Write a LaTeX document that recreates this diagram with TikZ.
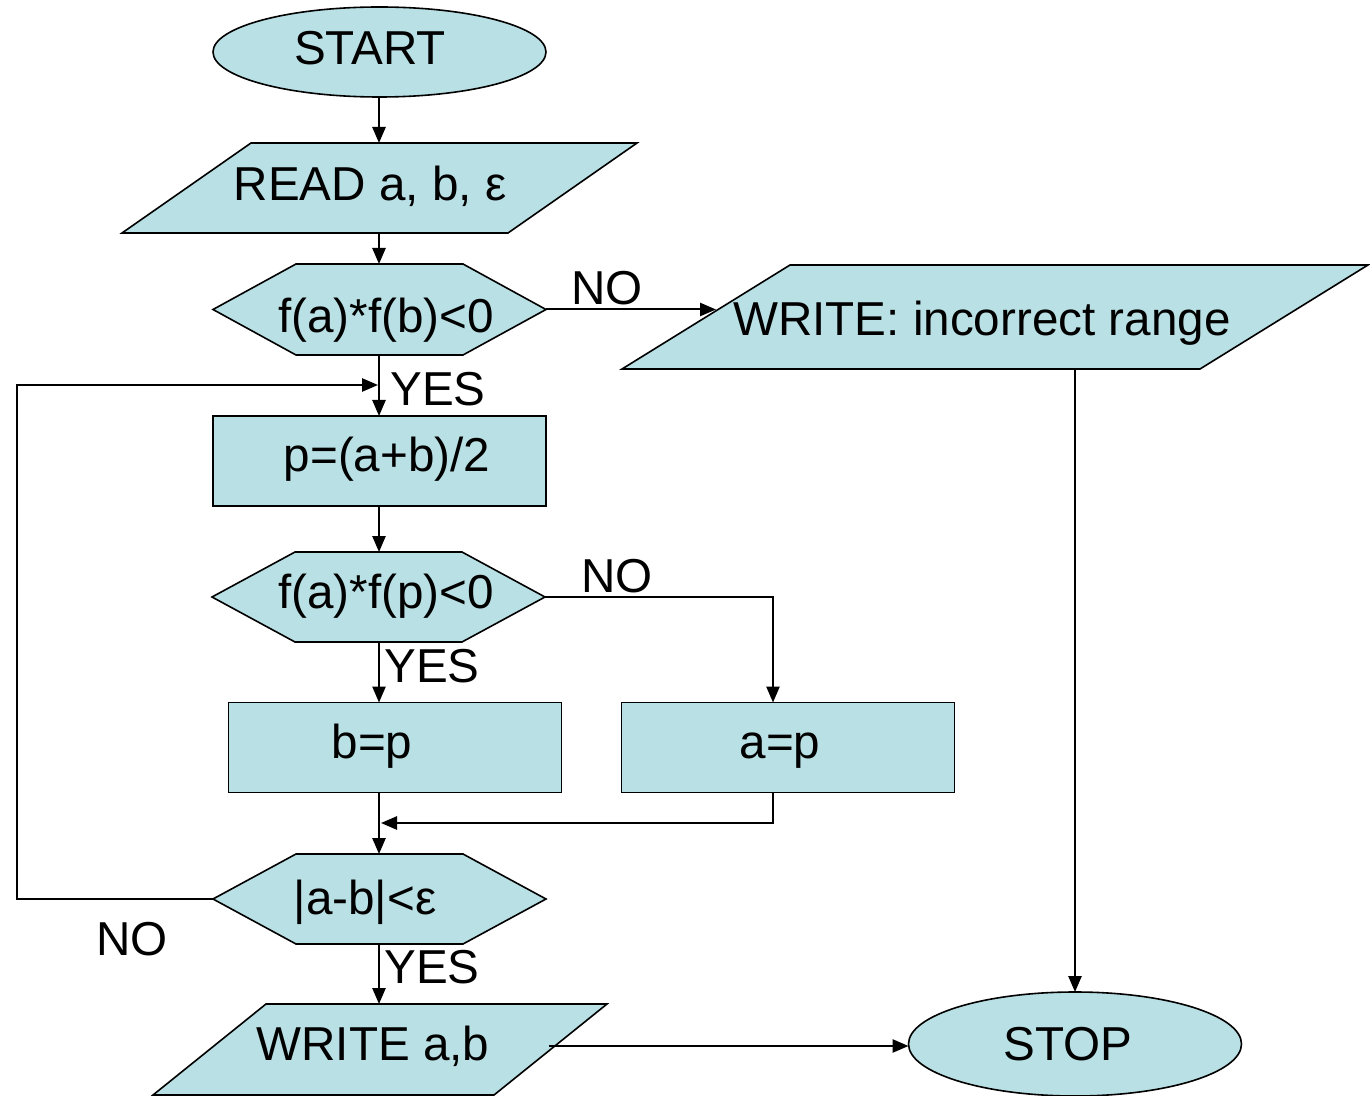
\documentclass[tikz,border=0pt]{standalone}
\usepackage{fontspec}
\setmainfont{Liberation Sans}
\usetikzlibrary{arrows.meta,shapes.geometric,calc}
\definecolor{boxfill}{RGB}{185,224,228}

\begin{document}
\begin{tikzpicture}[x=0.5pt,y=-0.5pt,
  shapeline/.style={draw=black,line width=0.8pt,fill=boxfill},
  area/.style 2 args={rectangle,inner sep=0pt,outer sep=0pt,
    minimum width=#1*0.5pt,minimum height=#2*0.5pt},
  oval/.style={ellipse,shapeline,inner sep=0pt,outer sep=0pt,
    minimum width=333*0.5pt,minimum height=#1*0.5pt},
  procbox/.style={area={333}{90},shapeline},
  txt/.style={inner sep=0pt,anchor=base,font=\fontsize{23.8}{28}\selectfont},
  conn/.style={line width=1pt,-{Triangle[length=8pt,width=6.6pt]}},
  hexa/.style={shapeline},
]
\useasboundingbox (0,0) rectangle (1370,1096);

% terminals and process boxes
\node[oval=90] (start) at (379.5,52) {};
\node[oval=104] (stop) at (1075,1044) {};
\node[procbox] (calc) at (379.5,461) {};
\node[procbox] (bp) at (395,747.5) {};
\node[procbox] (ap) at (788,747.5) {};

% frames of the input/output and decision shapes
\node[area={515}{90}] (read) at (379.5,188) {};
\node[area={746}{104}] (wr) at (995,317) {};
\node[area={454}{91}] (wab) at (380,1049.5) {};
\node[area={333}{91}] (d1) at (379.5,309.5) {};
\node[area={333}{90}] (d2) at (378.5,597) {};
\node[area={333}{90}] (d3) at (379.5,899) {};

% parallelograms
\draw[shapeline] ($(read.north west)+(129,0)$) -- (read.north east)
  -- ($(read.south east)+(-129,0)$) -- (read.south west) -- cycle;
\draw[shapeline] ($(wr.north west)+(168,0)$) -- (wr.north east)
  -- ($(wr.south east)+(-168,0)$) -- (wr.south west) -- cycle;
\draw[shapeline] ($(wab.north west)+(113,0)$) -- (wab.north east)
  -- ($(wab.south east)+(-113,0)$) -- (wab.south west) -- cycle;

% hexagonal decisions
\foreach \d in {d1,d2,d3}{
  \draw[hexa] (\d.west) -- ($(\d.north west)+(83,0)$) -- ($(\d.north east)+(-83,0)$)
    -- (\d.east) -- ($(\d.south east)+(-83,0)$) -- ($(\d.south west)+(83,0)$) -- cycle;
}

% connector helpers
\coordinate (no1end) at (716,309.5);
\coordinate (loopL) at (17,385);
\coordinate (loopin) at (378,385);
\coordinate (noturn) at (773,597);
\coordinate (merge) at (381,823);
\coordinate (wabout) at (549,1046);

% connectors
\draw[conn] (start.south -| 379,0) -- (read.north -| 379,0);
\draw[conn] (read.south -| 379,0) -- (d1.north -| 379,0);
\draw[conn] (d1.east) -- (no1end);
\draw[conn] (d1.south -| 379,0) -- (calc.north -| 379,0);
\draw[conn] (d3.west) -- (d3.west -| loopL) -- (loopL) -- (loopin);
\draw[conn] (calc.south -| 379,0) -- (d2.north -| 379,0);
\draw[conn] (d2.south -| 379,0) -- (bp.north -| 379,0);
\draw[conn] (d2.east) -- (noturn) -- (noturn |- ap.north);
\draw[conn] (bp.south -| 379,0) -- (d3.north -| 379,0);
\draw[conn] (noturn |- ap.south) -- (noturn |- merge) -- (merge);
\draw[conn] (d3.south -| 379,0) -- (wab.north -| 379,0);
\draw[conn] (wabout) -- (wabout -| stop.west);
\draw[conn] (stop.north |- wr.south) -- (stop.north);

% texts
\node[txt] (t-start) at (370,65) {START};
\node[txt] (t-read) at (370,201) {READ a, b, ε};
\node[txt] (t-d1) at (386,333) {f(a)*f(b)<0};
\node[txt] (t-wr) at (982,336) {WRITE: incorrect range};
\node[txt] (t-no1) at (607,305) {NO};
\node[txt] (t-yes1) at (438,406) {YES};
\node[txt] (t-calc) at (387,472) {p=(a+b)/2};
\node[txt] (t-d2) at (386,608) {f(a)*f(p)<0};
\node[txt] (t-no2) at (617,592) {NO};
\node[txt] (t-yes2) at (432,682) {YES};
\node[txt] (t-bp) at (372,758) {b=p};
\node[txt] (t-ap) at (780,758) {a=p};
\node[txt] (t-d3) at (365,914) {|a-b|<ε};
\node[txt] (t-no3) at (132,955) {NO};
\node[txt] (t-yes3) at (432,983) {YES};
\node[txt] (t-wab) at (373,1060) {WRITE a,b};
\node[txt] (t-stop) at (1068,1060) {STOP};
\end{tikzpicture}
\end{document}
